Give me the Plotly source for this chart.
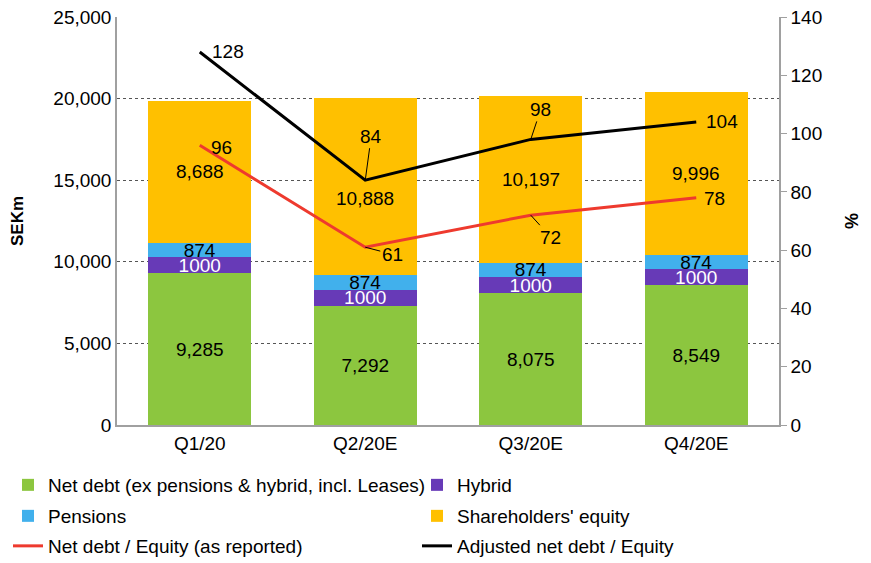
import plotly.graph_objects as go

# ------------------------------------------------------------------
# data
# ------------------------------------------------------------------
quarters = ["Q1/20", "Q2/20E", "Q3/20E", "Q4/20E"]

net_debt = [9285, 7292, 8075, 8549]
hybrid = [1000, 1000, 1000, 1000]
pensions = [874, 874, 874, 874]
equity = [8688, 10888, 10197, 9996]

nd_equity_reported = [96, 61, 72, 78]
adj_nd_equity = [128, 84, 98, 104]

# label offsets (px) for the line values, and whether a leader line is shown
black_offsets = [(28, 0, False), (6, -44, True), (10, -30, True), (26, 0, False)]
red_offsets = [(22, 2, False), (27, 7, True), (20, 22, True), (18, 1, False)]
# equity labels nudged down (px) where they would hit a line
equity_label_shift = [0, -12, 0, 0]

FONT = "Liberation Sans"
FS = 19
GREEN = "#8cc63f"
PURPLE = "#673ab7"
BLUE = "#41b0ec"
YELLOW = "#ffc000"
RED = "#ee3a2e"

# the page body has an 8px margin, so the figure is sized to fit the window
W, H = 863, 555

fig = go.Figure()


def add_bar(name, values, color, text_color, labels, legend):
    fig.add_trace(go.Bar(
        x=quarters,
        y=values,
        name=name,
        legend=legend,
        marker=dict(color=color, line=dict(width=0)),
        text=labels,
        texttemplate="%{text}",
        textposition="inside",
        insidetextanchor="middle",
        constraintext="none",
        textfont=dict(color=text_color, size=FS, family=FONT),
        hoverinfo="x+y+name",
    ))


add_bar("Net debt (ex pensions & hybrid, incl. Leases)", net_debt, GREEN, "#000000",
        [f"{v:,}" for v in net_debt], "legend")
add_bar("Hybrid", hybrid, PURPLE, "#ffffff", [str(v) for v in hybrid], "legend2")
add_bar("Pensions", pensions, BLUE, "#000000", [str(v) for v in pensions], "legend3")
add_bar("Shareholders' equity", equity, YELLOW, "#000000", [""] * len(equity), "legend4")

fig.add_trace(go.Scatter(
    x=quarters, y=nd_equity_reported, name="Net debt / Equity (as reported)",
    mode="lines", line=dict(color=RED, width=3), yaxis="y2", legend="legend5",
))
fig.add_trace(go.Scatter(
    x=quarters, y=adj_nd_equity, name="Adjusted net debt / Equity",
    mode="lines", line=dict(color="#000000", width=3), yaxis="y2", legend="legend6",
))

# equity labels (centred in the segment, some nudged)
for q, nd, hy, pe, eq, dy in zip(quarters, net_debt, hybrid, pensions, equity, equity_label_shift):
    fig.add_annotation(
        x=q, y=nd + hy + pe + eq / 2, xref="x", yref="y",
        text=f"{eq:,}", showarrow=False, yshift=dy,
        font=dict(size=FS, family=FONT, color="#000000"),
    )

# value labels on the lines
for vals, offs in ((adj_nd_equity, black_offsets), (nd_equity_reported, red_offsets)):
    for q, v, (ax, ay, leader) in zip(quarters, vals, offs):
        fig.add_annotation(
            x=q, y=v, xref="x", yref="y2",
            text=str(v),
            showarrow=True, arrowhead=0, arrowwidth=1,
            arrowcolor="#000000" if leader else "rgba(0,0,0,0)",
            ax=ax, ay=ay, standoff=0,
            font=dict(size=FS, family=FONT, color="#000000"),
        )


def legend_at(left_px, mid_px):
    return dict(
        orientation="h",
        xref="container", yref="container",
        x=left_px / W, y=1 - mid_px / H, xanchor="left", yanchor="middle",
        itemwidth=30,
        font=dict(size=FS, family=FONT),
        bgcolor="rgba(0,0,0,0)",
    )


fig.update_layout(
    width=W,
    height=H,
    barmode="stack",
    bargap=0.375,
    paper_bgcolor="white",
    plot_bgcolor="white",
    font=dict(family=FONT, size=FS, color="#000000"),
    margin=dict(l=109, r=92, t=9, b=138, autoexpand=False),
    showlegend=True,
    legend=legend_at(0, 477),
    legend2=legend_at(409, 477),
    legend3=legend_at(0, 508),
    legend4=legend_at(409, 508),
    legend5=legend_at(0, 538),
    legend6=legend_at(409, 538),
    xaxis=dict(
        showline=True, linecolor="#a0a0a0", linewidth=1.5,
        ticks="", tickfont=dict(size=FS), automargin=False,
    ),
    yaxis=dict(
        range=[0, 25000], dtick=5000, tickformat=",",
        showline=True, linecolor="#a0a0a0", linewidth=1.5,
        showgrid=True, gridcolor="#555555", griddash="dot", gridwidth=1,
        zeroline=False, ticks="", automargin=False,
        ticklabeloverflow="allow",
        tickfont=dict(size=FS),
        title=dict(text="<b>SEKm</b>", font=dict(size=17), standoff=32),
    ),
    yaxis2=dict(
        overlaying="y", side="right",
        range=[0, 140], dtick=20,
        showline=True, linecolor="#a0a0a0", linewidth=1.5,
        ticks="outside", ticklen=6, tickcolor="#a0a0a0",
        showgrid=False, zeroline=False, automargin=False,
        ticklabeloverflow="allow",
        tickfont=dict(size=FS),
        title=dict(text="<b>%</b>", font=dict(size=18), standoff=24),
    ),
)

fig.write_html("out.html")
